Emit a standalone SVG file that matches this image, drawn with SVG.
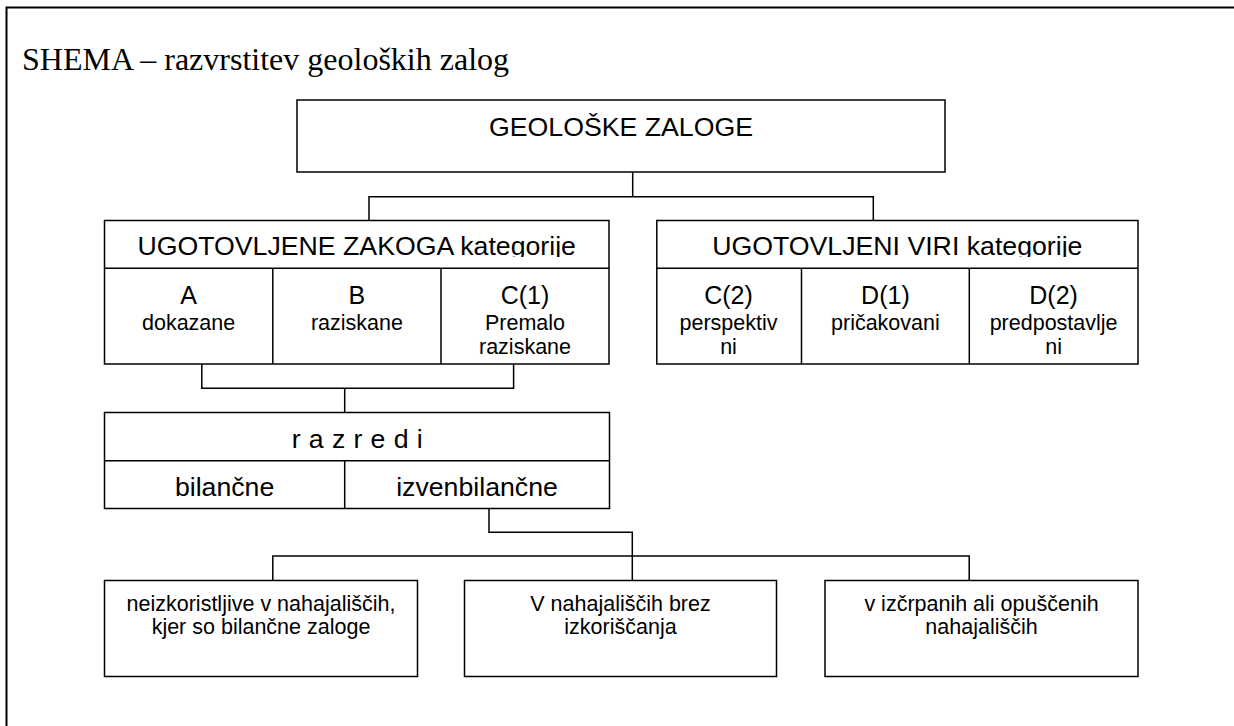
<svg xmlns="http://www.w3.org/2000/svg" width="1234" height="726" viewBox="0 0 1234 726">
<style>
.box{fill:#fff;stroke:#000;stroke-width:1.5}
.ln{fill:none;stroke:#000;stroke-width:1.5}
.frame{fill:none;stroke:#000;stroke-width:2}
.t{font-family:"Liberation Sans",Arial,sans-serif;fill:#000;text-anchor:middle}
.h{font-size:26.7px}
.l{font-size:25px}
.s{font-size:21.5px}
.title{font-family:"Liberation Serif","Times New Roman",serif;font-size:32px;fill:#000}
</style>
<defs>
<clipPath id="clipZ"><rect x="104" y="220" width="505" height="37"/></clipPath>
<clipPath id="clipV"><rect x="656" y="220" width="482" height="37"/></clipPath>
</defs>
<rect width="1234" height="726" fill="#fff"/>
<path class="frame" d="M6.5,726 V7.5 H1234"/>
<text class="title" x="22" y="70">SHEMA – razvrstitev geoloških zalog</text>

<g id="connectors">
<path class="ln" d="M632.7,172 V196.7"/>
<path class="ln" d="M369,220.5 V196.7 H873.3 V220.5"/>
<path class="ln" d="M201.8,364 V388.3 H513.6 V364"/>
<path class="ln" d="M344.7,388.3 V412.5"/>
<path class="ln" d="M489,508.5 V532.3 H632.3 V580.5"/>
<path class="ln" d="M272.8,580.5 V556 H969.2 V580.5"/>
</g>

<g id="geoloske-zaloge">
<rect class="box" x="297" y="100" width="648" height="72"/>
<text class="t h" x="621" y="135.7">GEOLOŠKE ZALOGE</text>
</g>

<g id="ugotovljene-zaloge">
<rect class="box" x="104.5" y="220.5" width="504.5" height="143.5"/>
<path class="ln" d="M104.5,268.3 H609 M272.8,268.3 V364 M441,268.3 V364"/>
<text class="t h" x="356.7" y="255" clip-path="url(#clipZ)">UGOTOVLJENE ZAKOGA kategorije</text>
<text class="t l" x="188.6" y="303.5">A</text>
<text class="t s" x="188.6" y="329.5">dokazane</text>
<text class="t l" x="356.9" y="303.5">B</text>
<text class="t s" x="356.9" y="329.5">raziskane</text>
<text class="t l" x="525" y="303.5">C(1)</text>
<text class="t s" x="525" y="329.5">Premalo</text>
<text class="t s" x="525" y="353.5">raziskane</text>
</g>

<g id="ugotovljeni-viri">
<rect class="box" x="656.8" y="220.5" width="481.2" height="143.5"/>
<path class="ln" d="M656.8,268.3 H1138 M801.5,268.3 V364 M969.3,268.3 V364"/>
<text class="t h" x="897.3" y="255" clip-path="url(#clipV)">UGOTOVLJENI VIRI kategorije</text>
<text class="t l" x="728.5" y="303.5">C(2)</text>
<text class="t s" x="728.5" y="329.5">perspektiv</text>
<text class="t s" x="728.5" y="353.5">ni</text>
<text class="t l" x="885.4" y="303.5">D(1)</text>
<text class="t s" x="885.4" y="329.5">pričakovani</text>
<text class="t l" x="1053.6" y="303.5">D(2)</text>
<text class="t s" x="1053.6" y="329.5">predpostavlje</text>
<text class="t s" x="1053.6" y="353.5">ni</text>
</g>

<g id="razredi">
<rect class="box" x="104.5" y="412.5" width="505" height="96"/>
<path class="ln" d="M104.5,460.7 H609.5 M344.7,460.7 V508.5"/>
<text class="t h" x="357.4" y="448" letter-spacing="0.4">r a z r e d i</text>
<text class="t h" x="224.6" y="495.5">bilančne</text>
<text class="t h" x="477" y="495.5">izvenbilančne</text>
</g>

<g id="neizkoristljive">
<rect class="box" x="104.5" y="580.5" width="313" height="96"/>
<text class="t s" x="261" y="610.7">neizkoristljive v nahajališčih,</text>
<text class="t s" x="261" y="634">kjer so bilančne zaloge</text>
</g>

<g id="brez-izkoriscanja">
<rect class="box" x="464.5" y="580.5" width="312" height="96"/>
<text class="t s" x="620.5" y="610.7">V nahajališčih brez</text>
<text class="t s" x="620.5" y="634">izkoriščanja</text>
</g>

<g id="izcrpana">
<rect class="box" x="825" y="580.5" width="313" height="96"/>
<text class="t s" x="981.5" y="610.7">v izčrpanih ali opuščenih</text>
<text class="t s" x="981.5" y="634">nahajališčih</text>
</g>
</svg>
